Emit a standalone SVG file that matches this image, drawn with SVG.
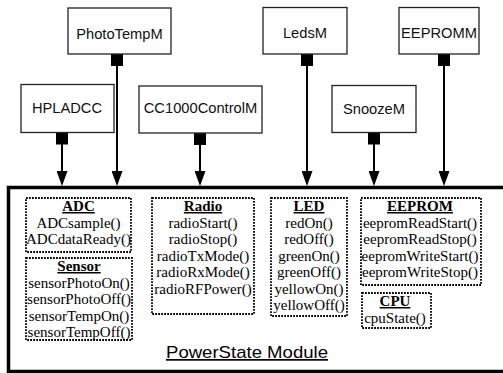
<svg xmlns="http://www.w3.org/2000/svg" width="503" height="373" viewBox="0 0 503 373">
<style>
.node{fill:#fff;stroke:#222;stroke-width:1.3}
.nl{font-family:"Liberation Sans",Arial,sans-serif;font-size:14.7px;fill:#111;text-anchor:middle}
.con{stroke:#000;stroke-width:2;fill:none}
.sq{fill:#000}
.dot{fill:none;stroke:#000;stroke-width:1.8;stroke-dasharray:1.8 1.2}
.it{font-family:"Liberation Serif","Times New Roman",serif;font-size:15px;fill:#000;text-anchor:middle}
.tt{font-weight:bold;text-decoration:underline}
</style>
<defs>
<marker id="arr" markerUnits="userSpaceOnUse" markerWidth="15" markerHeight="11" viewBox="0 0 15 11" refX="0" refY="5.5" orient="auto">
<path d="M0,0 L15,5.5 L0,11 Z" fill="#000"/>
</marker>
</defs>
<rect id="module" x="8.5" y="187.5" width="500" height="184" fill="#fff" stroke="#000" stroke-width="3.5"/>
<g id="connectors">
<line class="con" x1="62" y1="144" x2="62" y2="171" marker-end="url(#arr)"/>
<line class="con" x1="117" y1="66" x2="117" y2="171" marker-end="url(#arr)"/>
<line class="con" x1="200" y1="144" x2="200" y2="171" marker-end="url(#arr)"/>
<line class="con" x1="307" y1="66" x2="307" y2="171" marker-end="url(#arr)"/>
<line class="con" x1="374" y1="144" x2="374" y2="171" marker-end="url(#arr)"/>
<line class="con" x1="444" y1="66" x2="444" y2="171" marker-end="url(#arr)"/>
<rect class="sq" x="56" y="132.5" width="12" height="12"/>
<rect class="sq" x="111" y="54" width="12" height="12"/>
<rect class="sq" x="194" y="133" width="12" height="12"/>
<rect class="sq" x="301" y="54" width="12" height="12"/>
<rect class="sq" x="368" y="132.5" width="12" height="12"/>
<rect class="sq" x="438" y="54" width="12" height="12"/>
</g>
<g id="PhotoTempM"><rect class="node" x="68" y="8" width="103" height="46"/><text class="nl" x="119.5" y="38.5">PhotoTempM</text></g>
<g id="HPLADCC"><rect class="node" x="21" y="84.5" width="93" height="48"/><text class="nl" x="67" y="112.5">HPLADCC</text></g>
<g id="CC1000ControlM"><rect class="node" x="139" y="86" width="123" height="47"/><text class="nl" x="200.5" y="113">CC1000ControlM</text></g>
<g id="LedsM"><rect class="node" x="263" y="7.5" width="84" height="46.5"/><text class="nl" x="305" y="37.5">LedsM</text></g>
<g id="EEPROMM"><rect class="node" x="399" y="7.5" width="80" height="46.5"/><text class="nl" x="439" y="37.5">EEPROMM</text></g>
<g id="SnoozeM"><rect class="node" x="332" y="85.5" width="84" height="47"/><text class="nl" x="374" y="114">SnoozeM</text></g>
<g id="ADC"><rect class="dot" x="26" y="198" width="105" height="54"/>
<text class="it tt" x="78.5" y="211">ADC</text>
<text class="it" x="78.5" y="227.5">ADCsample()</text>
<text class="it" x="78.5" y="244">ADCdataReady()</text></g>
<g id="Sensor"><rect class="dot" x="26" y="258" width="106" height="82"/>
<text class="it tt" x="79" y="271">Sensor</text>
<text class="it" x="79" y="287.5">sensorPhotoOn()</text>
<text class="it" x="79" y="304">sensorPhotoOff()</text>
<text class="it" x="79" y="320.5">sensorTempOn()</text>
<text class="it" x="79" y="337">sensorTempOff()</text></g>
<g id="Radio"><rect class="dot" x="152" y="198" width="102" height="116"/>
<text class="it tt" x="203" y="211">Radio</text>
<text class="it" x="203" y="227.5">radioStart()</text>
<text class="it" x="203" y="244">radioStop()</text>
<text class="it" x="203" y="260.5">radioTxMode()</text>
<text class="it" x="203" y="277">radioRxMode()</text>
<text class="it" x="203" y="293.5">radioRFPower()</text></g>
<g id="LED"><rect class="dot" x="271" y="198" width="76" height="118"/>
<text class="it tt" x="309" y="211">LED</text>
<text class="it" x="309" y="227.5">redOn()</text>
<text class="it" x="309" y="244">redOff()</text>
<text class="it" x="309" y="260.5">greenOn()</text>
<text class="it" x="309" y="277">greenOff()</text>
<text class="it" x="309" y="293.5">yellowOn()</text>
<text class="it" x="309" y="310">yellowOff()</text></g>
<g id="EEPROM"><rect class="dot" x="361" y="198" width="120" height="87"/>
<text class="it tt" x="420" y="211">EEPROM</text>
<text class="it" x="420" y="227.5">eepromReadStart()</text>
<text class="it" x="420" y="244">eepromReadStop()</text>
<text class="it" x="420" y="260.5">eepromWriteStart()</text>
<text class="it" x="420" y="277">eepromWriteStop()</text></g>
<g id="CPU"><rect class="dot" x="362" y="293" width="69" height="35"/>
<text class="it tt" x="395" y="306">CPU</text>
<text class="it" x="395" y="322.5">cpuState()</text></g>
<text x="247" y="358" font-family="'Liberation Sans',Arial,sans-serif" font-size="17" text-anchor="middle" text-decoration="underline" textLength="162" lengthAdjust="spacingAndGlyphs" fill="#000">PowerState Module</text>
</svg>
